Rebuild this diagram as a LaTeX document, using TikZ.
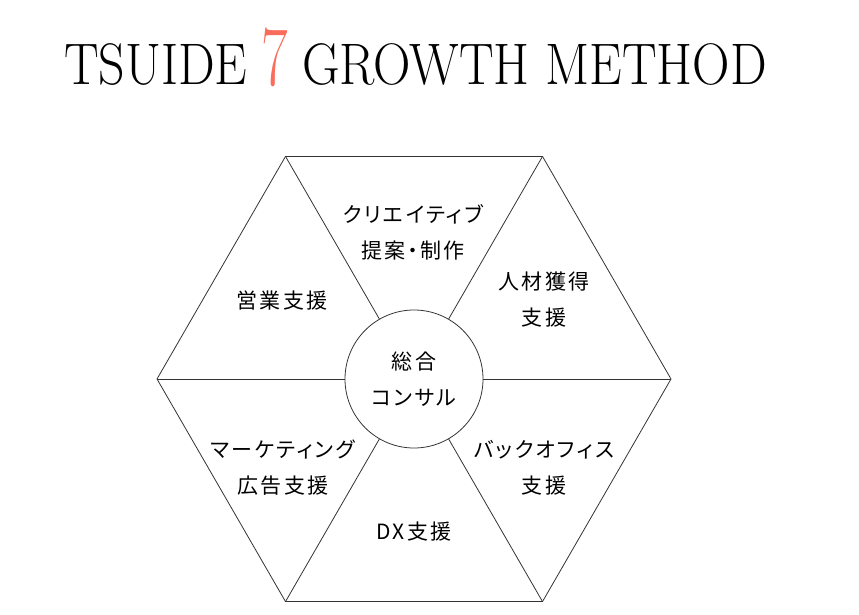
\documentclass[tikz,border=0pt]{standalone}
\usepackage{fontspec}
\newfontfamily\jpfont[RawFeature=+palt, LetterSpace=11]{Noto Sans CJK JP}
\definecolor{salmonseven}{RGB}{250,108,92}
\tikzset{
  hexline/.style={draw=black!80, line width=0.8pt},
  sector/.style={font=\jpfont\fontsize{21}{36}\selectfont, align=center, inner sep=0pt},
  titletext/.style={font=\fontsize{58.6}{60}\selectfont, inner sep=0pt, anchor=base west},
}
\begin{document}
\begin{tikzpicture}[x=1pt,y=-1pt]
  \useasboundingbox (0,0) rectangle (859,614);

  %% title
  \node[titletext] (tsuide) at (64,84) {\scalebox{0.885}[1]{TSUIDE}};
  \node[titletext, text=salmonseven, font=\fontsize{85}{86}\selectfont] (seven) at (261,85) {\scalebox{0.68}[1]{7}};
  \node[titletext] (growth) at (302,84) {\scalebox{0.885}[1]{GROWTH METHOD}};

  %% hexagon
  \coordinate (mid) at (414,379);
  \foreach \a in {0,60,...,300}
    \coordinate (v\a) at ([shift={(\a:257)}]mid);
  \draw[hexline] (v0) -- (v60) -- (v120) -- (v180) -- (v240) -- (v300) -- cycle;

  %% centre
  \node[hexline, sector, circle, minimum size=138pt] (core) at (mid) {総合\\コンサル};
  \foreach \a in {0,60,...,300}
    \draw[hexline] (core) -- (v\a);

  %% sectors
  \node[sector] (creative) at (413,232) {クリエイティブ\\提案・制作};
  \node[sector] (sales) at (282,301) {営業支援};
  \node[sector] (hr) at (544,300) {人材獲得\\支援};
  \node[sector] (marketing) at (283,468) {マーケティング\\広告支援};
  \node[sector] (office) at (544,468) {バックオフィス\\支援};
  \node[sector] (dx) at (414,532) {DX支援};

\end{tikzpicture}
\end{document}
